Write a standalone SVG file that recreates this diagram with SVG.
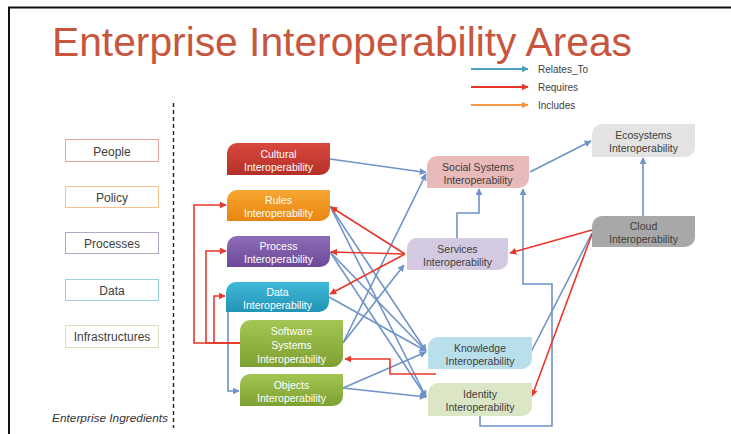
<svg xmlns="http://www.w3.org/2000/svg" width="731" height="434" viewBox="0 0 731 434">
<defs>
<style>
text{font-family:"Liberation Sans",Arial,sans-serif}
.title{font-size:40.5px;fill:#c8553d}
.leg{font-size:10px;fill:#404040}
.ing rect{fill:#fff;stroke-width:1}
.ing text{font-size:12px;fill:#404040;text-anchor:middle}
.nd text{font-size:10.5px;text-anchor:middle}
.dk text{fill:#fff}
.lt text{fill:#3d3d3d}
.b{fill:none;stroke:#6f93c8;stroke-width:1.6;marker-end:url(#ab)}
.bn{fill:none;stroke:#6f93c8;stroke-width:1.6}
.r{fill:none;stroke:#e8382b;stroke-width:1.6;marker-end:url(#ar)}
</style>
<marker id="ab" viewBox="0 0 10 10" refX="9" refY="5" markerWidth="7" markerHeight="7" markerUnits="userSpaceOnUse" orient="auto"><path d="M0,0 L10,5 L0,10 Z" fill="#6f93c8"/></marker>
<marker id="ar" viewBox="0 0 10 10" refX="9" refY="5" markerWidth="7" markerHeight="7" markerUnits="userSpaceOnUse" orient="auto"><path d="M0,0 L10,5 L0,10 Z" fill="#e8382b"/></marker>
<marker id="al" viewBox="0 0 10 10" refX="9" refY="5" markerWidth="7" markerHeight="7" markerUnits="userSpaceOnUse" orient="auto"><path d="M0,0 L10,5 L0,10 Z" fill="#4ba0c4"/></marker>
<marker id="ao" viewBox="0 0 10 10" refX="9" refY="5" markerWidth="7" markerHeight="7" markerUnits="userSpaceOnUse" orient="auto"><path d="M0,0 L10,5 L0,10 Z" fill="#f79646"/></marker>
<linearGradient id="gCul" x1="0" y1="0" x2="0" y2="1"><stop offset="0" stop-color="#d9493e"/><stop offset="1" stop-color="#b42f27"/></linearGradient>
<linearGradient id="gRul" x1="0" y1="0" x2="0" y2="1"><stop offset="0" stop-color="#f7a632"/><stop offset="1" stop-color="#e8860f"/></linearGradient>
<linearGradient id="gPro" x1="0" y1="0" x2="0" y2="1"><stop offset="0" stop-color="#8d6cb8"/><stop offset="1" stop-color="#6c4a98"/></linearGradient>
<linearGradient id="gDat" x1="0" y1="0" x2="0" y2="1"><stop offset="0" stop-color="#40b9d9"/><stop offset="1" stop-color="#2394b6"/></linearGradient>
<linearGradient id="gGrn" x1="0" y1="0" x2="0" y2="1"><stop offset="0" stop-color="#a3c653"/><stop offset="1" stop-color="#7da032"/></linearGradient>
</defs>

<path d="M9,434 V7.5 H731" fill="none" stroke="#111" stroke-width="2"/>

<text class="title" x="52" y="56" textLength="580" lengthAdjust="spacingAndGlyphs">Enterprise Interoperability Areas</text>

<g id="legend">
<line x1="471" y1="69" x2="528" y2="69" stroke="#4ba0c4" stroke-width="1.8" marker-end="url(#al)"/>
<text class="leg" x="538" y="72.5">Relates_To</text>
<line x1="471" y1="87" x2="528" y2="87" stroke="#e8382b" stroke-width="1.8" marker-end="url(#ar)"/>
<text class="leg" x="538" y="90.5">Requires</text>
<line x1="471" y1="105" x2="528" y2="105" stroke="#f79646" stroke-width="1.8" marker-end="url(#ao)"/>
<text class="leg" x="538" y="108.5">Includes</text>
</g>

<line x1="173.5" y1="103" x2="173.5" y2="428" stroke="#222" stroke-width="1.4" stroke-dasharray="4,3"/>
<text x="52" y="422" font-size="11" font-style="italic" fill="#333" textLength="116" lengthAdjust="spacingAndGlyphs">Enterprise Ingredients</text>

<g class="ing">
<g id="people"><rect x="65.5" y="139.5" width="93" height="22" stroke="#e6a3a0"/><text x="112" y="156">People</text></g>
<g id="policy"><rect x="65.5" y="186.5" width="93" height="21" stroke="#f7c18e"/><text x="112" y="202">Policy</text></g>
<g id="processes"><rect x="65.5" y="232.5" width="93" height="21" stroke="#b5a5c9"/><text x="112" y="248">Processes</text></g>
<g id="data"><rect x="65.5" y="279.5" width="93" height="21" stroke="#9ad1e0"/><text x="112" y="295">Data</text></g>
<g id="infrastructures"><rect x="65.5" y="325.5" width="93" height="22" stroke="#d7e2bf"/><text x="112" y="341">Infrastructures</text></g>
</g>

<g id="connectors">
<path class="b" d="M330,159 L426,172.5"/>
<path class="b" d="M530,172 L591,141"/>
<path class="b" d="M643,216 L643,158"/>
<path class="b" d="M457,238 V213 H479 V189"/>
<path class="b" d="M480,416 V426 H552 V284 H523 V189"/>
<path class="bn" d="M592,233 L531,352"/>
<path class="b" d="M330,206 L426,351"/>
<path class="b" d="M330,206 L426,397"/>
<path class="b" d="M330,252 L426,351"/>
<path class="b" d="M330,252 L426,397"/>
<path class="b" d="M329,297 L426,351"/>
<path class="b" d="M343,388 L426,352"/>
<path class="b" d="M343,388 L426,397"/>
<path class="b" d="M343,343 L426,174"/>
<path class="b" d="M343,343 L404,265"/>
<path class="b" d="M228,312 V391 H239"/>
<path class="r" d="M592,230 L510,253"/>
<path class="r" d="M592,234 L532,396"/>
<path class="r" d="M405,254 L331,207"/>
<path class="r" d="M405,254 L331,252"/>
<path class="r" d="M405,254 L330,294"/>
<path class="r" d="M436,374 H390 V359 H345"/>
<path class="r" d="M240,343 H194 V205 H226"/>
<path class="r" d="M240,343 H206 V251 H226"/>
<path class="r" d="M240,343 H214 V296 H225"/>
</g>

<g class="nd">
<g id="cultural" class="dk"><path d="M237,143 H330 V165 A10,10 0 0 1 320,175 H227 V153 A10,10 0 0 1 237,143 Z" fill="url(#gCul)"/><text x="278.5" y="158">Cultural</text><text x="278.5" y="171">Interoperability</text></g>
<g id="rules" class="dk"><path d="M237,190 H330 V211 A10,10 0 0 1 320,221 H227 V200 A10,10 0 0 1 237,190 Z" fill="url(#gRul)"/><text x="278.5" y="204">Rules</text><text x="278.5" y="217">Interoperability</text></g>
<g id="process" class="dk"><path d="M237,236 H330 V257 A10,10 0 0 1 320,267 H227 V246 A10,10 0 0 1 237,236 Z" fill="url(#gPro)"/><text x="278.5" y="250">Process</text><text x="278.5" y="263">Interoperability</text></g>
<g id="data-i" class="dk"><path d="M236,282 H329 V302 A10,10 0 0 1 319,312 H226 V292 A10,10 0 0 1 236,282 Z" fill="url(#gDat)"/><text x="277.5" y="296">Data</text><text x="277.5" y="309">Interoperability</text></g>
<g id="software" class="dk"><path d="M251,320 H343 V356 A11,11 0 0 1 332,367 H240 V331 A11,11 0 0 1 251,320 Z" fill="url(#gGrn)"/><text x="291.5" y="335">Software</text><text x="291.5" y="349">Systems</text><text x="291.5" y="363">Interoperability</text></g>
<g id="objects" class="dk"><path d="M250,374 H343 V396 A10,10 0 0 1 333,406 H240 V384 A10,10 0 0 1 250,374 Z" fill="url(#gGrn)"/><text x="291.5" y="389">Objects</text><text x="291.5" y="402">Interoperability</text></g>
<g id="social" class="lt"><path d="M437,156 H529 V178 A10,10 0 0 1 519,188 H427 V166 A10,10 0 0 1 437,156 Z" fill="#e8bab9"/><text x="478" y="171">Social Systems</text><text x="478" y="184">Interoperability</text></g>
<g id="services" class="lt"><path d="M417,238 H508 V260 A10,10 0 0 1 498,270 H407 V248 A10,10 0 0 1 417,238 Z" fill="#d3cae2"/><text x="457.5" y="253">Services</text><text x="457.5" y="266">Interoperability</text></g>
<g id="ecosystems" class="lt"><path d="M602,124 H695 V147 A10,10 0 0 1 685,157 H592 V134 A10,10 0 0 1 602,124 Z" fill="#e3e3e3"/><text x="643.5" y="139">Ecosystems</text><text x="643.5" y="152">Interoperability</text></g>
<g id="cloud" class="lt"><path d="M602,216 H695 V237 A10,10 0 0 1 685,247 H592 V226 A10,10 0 0 1 602,216 Z" fill="#a8a8a8"/><text x="643.5" y="230" fill="#2e2e2e">Cloud</text><text x="643.5" y="243" fill="#2e2e2e">Interoperability</text></g>
<g id="knowledge" class="lt"><path d="M438,337 H532 V359 A10,10 0 0 1 522,369 H428 V347 A10,10 0 0 1 438,337 Z" fill="#b9dfea"/><text x="480" y="352">Knowledge</text><text x="480" y="365">Interoperability</text></g>
<g id="identity" class="lt"><path d="M438,383 H532 V406 A10,10 0 0 1 522,416 H428 V393 A10,10 0 0 1 438,383 Z" fill="#dbe6c6"/><text x="480" y="398">Identity</text><text x="480" y="411">Interoperability</text></g>
</g>
</svg>
